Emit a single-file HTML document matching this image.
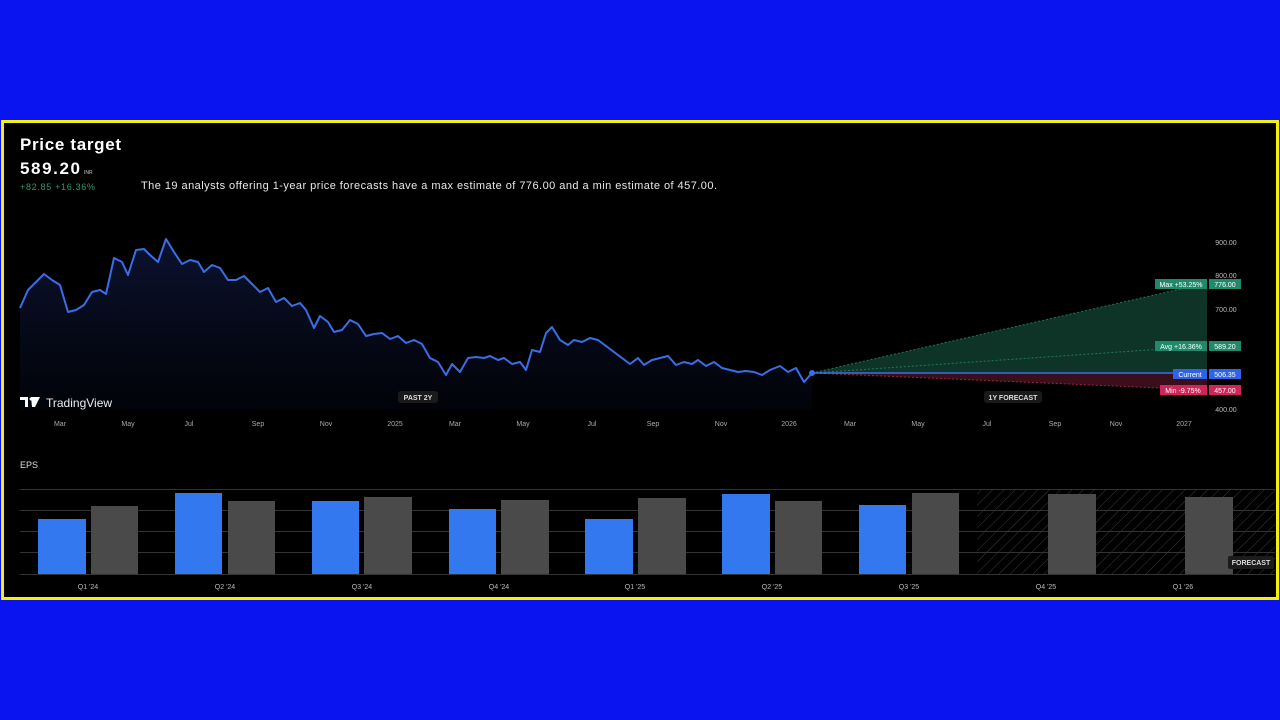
<!DOCTYPE html>
<html><head><meta charset="utf-8"><style>
html,body{margin:0;padding:0;background:#0a14f0;width:1280px;height:720px;overflow:hidden;font-family:"Liberation Sans",sans-serif}
#card{position:absolute;left:1px;top:120px;width:1272px;height:474px;background:#000;border:3px solid #f4f00a}
svg{position:absolute;left:0;top:0}
</style></head><body>
<div id="card"></div>
<svg width="1280" height="720" font-family="Liberation Sans, sans-serif">
<defs>
<linearGradient id="ag" x1="0" y1="0" x2="0" y2="1"><stop offset="0" stop-color="#1a2a6a" stop-opacity="0.45"/><stop offset="1" stop-color="#0a1030" stop-opacity="0.2"/></linearGradient>
<pattern id="hatch" width="8" height="8" patternUnits="userSpaceOnUse" patternTransform="rotate(45)"><line x1="0" y1="0" x2="0" y2="8" stroke="#3a3a3a" stroke-width="1"/></pattern>
</defs>
<text x="20" y="150" fill="#fff" font-size="17" font-weight="bold" textLength="101">Price target</text>
<text x="20" y="174" fill="#fff" font-size="17" font-weight="bold" textLength="60">589.20</text>
<text x="84" y="174" fill="#ccc" font-size="5">INR</text>
<text x="20" y="190" fill="#2a9a78" font-size="9" textLength="75">+82.85  +16.36%</text>
<text x="141" y="189" fill="#e8e8e8" font-size="11" textLength="576">The 19 analysts offering 1-year price forecasts have a max estimate of 776.00 and a min estimate of 457.00.</text>
<polygon points="812,373 1207,283 1207,373" fill="#0f3a2c" opacity="0.9"/>
<polygon points="812,373 1207,373 1207,390" fill="#3a0f1c"/>
<line x1="812" y1="373" x2="1207" y2="283" stroke="#1e7a5e" stroke-width="1" stroke-dasharray="2,2"/>
<line x1="812" y1="373" x2="1207" y2="346" stroke="#1e7a5e" stroke-width="1" stroke-dasharray="2,2"/>
<line x1="812" y1="373" x2="1207" y2="390" stroke="#a02040" stroke-width="1" stroke-dasharray="2,2"/>
<line x1="812" y1="373" x2="1207" y2="373" stroke="#3a6ee8" stroke-width="1.5"/>
<polygon fill="url(#ag)" points="20,308 28,290 36,282 44,274 52,280 60,285 68,312 76,310 84,305 92,292 100,290 106,294 114,258 122,262 128,275 136,250 144,249 150,255 158,262 166,239 174,252 182,264 190,260 198,262 204,272 212,265 220,268 228,280 236,280 244,276 252,284 260,292 268,288 276,302 284,298 292,306 300,303 306,310 314,328 320,316 328,322 334,332 342,330 350,320 358,324 366,336 374,334 382,333 390,339 398,336 406,343 414,340 422,344 430,358 438,362 446,375 452,364 460,372 468,358 476,357 484,358 490,356 498,360 504,358 512,364 520,362 526,370 532,350 540,352 546,333 552,327 560,340 568,345 574,340 582,342 590,338 598,340 606,346 614,352 622,358 630,364 638,358 644,365 652,360 660,358 668,356 676,365 684,362 692,364 698,360 706,366 714,362 722,368 730,370 738,372 746,371 754,372 762,375 770,370 780,366 788,372 796,368 804,382 812,373 812,410 20,410"/>
<polyline fill="none" stroke="#3a6ee8" stroke-width="2" stroke-linejoin="round" points="20,308 28,290 36,282 44,274 52,280 60,285 68,312 76,310 84,305 92,292 100,290 106,294 114,258 122,262 128,275 136,250 144,249 150,255 158,262 166,239 174,252 182,264 190,260 198,262 204,272 212,265 220,268 228,280 236,280 244,276 252,284 260,292 268,288 276,302 284,298 292,306 300,303 306,310 314,328 320,316 328,322 334,332 342,330 350,320 358,324 366,336 374,334 382,333 390,339 398,336 406,343 414,340 422,344 430,358 438,362 446,375 452,364 460,372 468,358 476,357 484,358 490,356 498,360 504,358 512,364 520,362 526,370 532,350 540,352 546,333 552,327 560,340 568,345 574,340 582,342 590,338 598,340 606,346 614,352 622,358 630,364 638,358 644,365 652,360 660,358 668,356 676,365 684,362 692,364 698,360 706,366 714,362 722,368 730,370 738,372 746,371 754,372 762,375 770,370 780,366 788,372 796,368 804,382 812,373"/>
<circle cx="812" cy="373" r="3" fill="#3a6ee8"/>
<g fill="#bbb" font-size="7" text-anchor="middle">
<text x="1226" y="245">900.00</text><text x="1226" y="278">800.00</text><text x="1226" y="312">700.00</text><text x="1226" y="412">400.00</text>
</g>
<g font-size="7" fill="#fff" text-anchor="middle">
<rect x="1155" y="279" width="52" height="10" fill="#1f8a6a"/><rect x="1209" y="279" width="32" height="10" fill="#1f8a6a"/>
<text x="1181" y="287">Max +53.25%</text><text x="1225" y="287">776.00</text>
<rect x="1155" y="341" width="52" height="10" fill="#1f8a6a"/><rect x="1209" y="341" width="32" height="10" fill="#1f8a6a"/>
<text x="1181" y="349">Avg +16.36%</text><text x="1225" y="349">589.20</text>
<rect x="1173" y="369" width="34" height="10" fill="#2e62e8"/><rect x="1209" y="369" width="32" height="10" fill="#2e62e8"/>
<text x="1190" y="377">Current</text><text x="1225" y="377">506.35</text>
<rect x="1160" y="385" width="47" height="10" fill="#d0245a"/><rect x="1209" y="385" width="32" height="10" fill="#d0245a"/>
<text x="1183" y="393">Min -9.75%</text><text x="1225" y="393">457.00</text>
</g>
<rect x="398" y="391" width="40" height="12" rx="3" fill="#1a1a1a"/><text x="418" y="400" fill="#ddd" font-size="7" font-weight="bold" text-anchor="middle">PAST 2Y</text>
<rect x="984" y="391" width="58" height="12" rx="3" fill="#1a1a1a"/><text x="1013" y="400" fill="#ddd" font-size="7" font-weight="bold" text-anchor="middle">1Y FORECAST</text>
<path d="M20,397 h8 v10 h-3 v-7 h-5 z M31,397 h9 l-5,10 h-3 z" fill="#fff"/><circle cx="31" cy="399" r="1.5" fill="#fff"/>
<text x="46" y="407" fill="#eee" font-size="12">TradingView</text>
<g fill="#aaa" font-size="7" text-anchor="middle">
<text x="60" y="426">Mar</text><text x="128" y="426">May</text><text x="189" y="426">Jul</text><text x="258" y="426">Sep</text><text x="326" y="426">Nov</text><text x="395" y="426">2025</text><text x="455" y="426">Mar</text><text x="523" y="426">May</text><text x="592" y="426">Jul</text><text x="653" y="426">Sep</text><text x="721" y="426">Nov</text><text x="789" y="426">2026</text><text x="850" y="426">Mar</text><text x="918" y="426">May</text><text x="987" y="426">Jul</text><text x="1055" y="426">Sep</text><text x="1116" y="426">Nov</text><text x="1184" y="426">2027</text>
</g>
<text x="20" y="468" fill="#ddd" font-size="9">EPS</text>
<rect x="977" y="489" width="298" height="86" fill="url(#hatch)"/>
<g stroke="#333" stroke-width="1">
<line x1="20" y1="489.5" x2="1275" y2="489.5"/><line x1="20" y1="510.5" x2="1275" y2="510.5"/><line x1="20" y1="531.5" x2="1275" y2="531.5"/><line x1="20" y1="552.5" x2="1275" y2="552.5"/><line x1="20" y1="574.5" x2="1275" y2="574.5"/>
</g>
<g fill="#3478f0">
<rect x="38" y="519" width="48" height="55"/><rect x="175" y="493" width="47" height="81"/><rect x="312" y="501" width="47" height="73"/><rect x="449" y="509" width="47" height="65"/><rect x="585" y="519" width="48" height="55"/><rect x="722" y="494" width="48" height="80"/><rect x="859" y="505" width="47" height="69"/>
</g>
<g fill="#4a4a4a">
<rect x="91" y="506" width="47" height="68"/><rect x="228" y="501" width="47" height="73"/><rect x="364" y="497" width="48" height="77"/><rect x="501" y="500" width="48" height="74"/><rect x="638" y="498" width="48" height="76"/><rect x="775" y="501" width="47" height="73"/><rect x="912" y="493" width="47" height="81"/><rect x="1048" y="494" width="48" height="80"/><rect x="1185" y="497" width="48" height="77"/>
</g>
<rect x="1228" y="556" width="46" height="13" rx="2" fill="#1c1c1c"/><text x="1251" y="565" fill="#ddd" font-size="7" font-weight="bold" text-anchor="middle">FORECAST</text>
<g fill="#bbb" font-size="7" text-anchor="middle">
<text x="88" y="589">Q1 '24</text><text x="225" y="589">Q2 '24</text><text x="362" y="589">Q3 '24</text><text x="499" y="589">Q4 '24</text><text x="635" y="589">Q1 '25</text><text x="772" y="589">Q2 '25</text><text x="909" y="589">Q3 '25</text><text x="1046" y="589">Q4 '25</text><text x="1183" y="589">Q1 '26</text>
</g>
</svg>
</body></html>
